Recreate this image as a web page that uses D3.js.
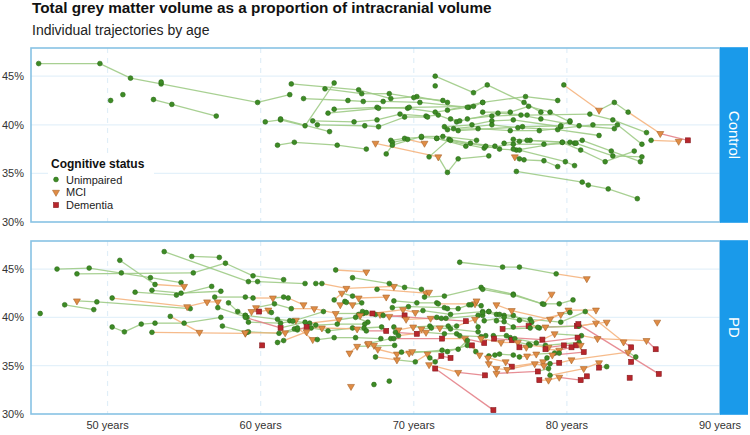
<!DOCTYPE html>
<html>
<head>
<meta charset="utf-8">
<script src="https://cdn.jsdelivr.net/npm/d3@7"></script>
<style>
  body { margin: 0; background: #fff; }
  svg { display: block; font-family: "Liberation Sans", Arial, Helvetica, sans-serif; }
</style>
</head>
<body>
<svg id="chart" width="750" height="435"></svg>
<script>
// Data (age in years, total GM volume as % of ICV, status U / M / D)

const panels = ["Control", "PD"];
const statusKeys = ["U", "M", "D"];
const statusNames = ["Unimpaired", "MCI", "Dementia"];
const yTicks = [30, 35, 40, 45];
const xTicks = [50, 60, 70, 80, 90];

const controlTrajectories = [
    [[45.5,46.3],[49.5,46.3],[51.5,44.8],[53.5,44.2],[59.8,42.3],[61.9,43.1]],
    [[50.2,42.5]],
    [[51.0,43.1]],
    [[53.5,44.4]],
    [[53.0,42.6],[54.2,42.1],[57.1,40.9]],
    [[60.3,40.3],[61.3,40.5],[62.9,39.9],[64.8,44.3]],
    [[61.1,37.9],[62.2,38.2],[65.0,37.9],[66.9,37.5]],
    [[62.0,44.2],[66.4,43.6],[68.5,42.7],[70.2,42.9],[72.2,42.3]],
    [[64.2,43.7],[66.6,43.2],[68.4,43.2],[70.0,42.8],[71.9,42.5]],
    [[62.8,42.7],[65.7,42.5],[66.7,42.4],[68.0,42.4],[70.4,42.3],[73.6,41.8]],
    [[64.8,41.6],[67.6,41.8],[69.6,41.7],[71.4,41.3],[73.5,41.8]],
    [[64.4,41.2],[67.7,41.7],[69.7,41.8],[73.9,41.9],[74.5,42.3]],
    [[63.4,40.4],[66.1,40.3],[67.6,40.5],[69.1,41.1],[70.8,40.9],[71.6,41.0],[72.8,40.3]],
    [[63.7,40.0],[66.8,39.9],[67.7,39.8],[69.4,40.8],[70.9,40.8]],
    [[61.3,40.6],[64.5,39.3]],
    [[67.5,38.1,"M"],[71.6,36.7,"M"],[72.2,35.1],[72.9,36.5],[74.9,36.8]],
    [[68.5,38.4],[69.4,38.6],[70.5,38.7],[71.5,38.6],[73.4,37.8]],
    [[68.6,38.2],[69.6,38.5],[70.7,38.1,"M"]],
    [[68.2,37.0],[68.6,37.9],[70.5,38.8],[71.9,38.8],[74.1,38.4]],
    [[71.0,36.7],[72.3,38.5],[73.7,38.1],[75.3,37.8]],
    [[71.4,45.0],[73.9,43.3],[74.8,44.1],[77.2,42.3],[78.3,41.3]],
    [[71.4,44.0]],
    [[72.2,41.5],[74.5,42.3],[77.3,42.9],[79.4,42.5]],
    [[74.5,41.3],[76.3,41.3],[77.5,41.9],[78.9,41.3],[80.2,40.3]],
    [[73.5,40.6],[75.1,40.9],[77.0,41.0],[78.3,40.6],[80.8,39.9],[83.1,39.6]],
    [[72.4,40.6],[73.0,40.4],[75.5,41.2],[77.4,41.0],[81.5,41.1],[83.0,40.5],[85.2,39.2]],
    [[72.0,39.8],[73.8,40.0],[75.1,40.4],[76.5,40.5],[79.6,39.8]],
    [[72.2,39.5],[74.2,39.6],[76.3,39.4],[78.2,39.4],[81.7,40.0],[83.3,40.0],[84.9,38.0]],
    [[72.6,39.6],[75.1,40.0],[76.8,39.7],[79.4,39.5],[82.1,38.9]],
    [[72.9,39.4],[77.1,39.8],[79.6,39.9],[80.2,40.4]],
    [[71.5,38.6],[74.6,37.6],[76.5,38.0],[78.5,38.0],[80.5,38.1]],
    [[72.4,38.4],[74.7,37.8],[75.6,37.5],[76.7,37.4],[79.7,38.2],[81.0,38.4],[82.9,37.3],[84.8,36.2]],
    [[75.9,38.1],[76.9,38.3],[77.6,38.4],[80.2,38.2],[80.6,38.1],[83.0,36.8],[84.9,36.7]],
    [[76.5,38.5],[77.4,38.4],[79.7,38.2],[80.9,37.4],[82.5,36.2],[84.4,37.3]],
    [[76.5,37.5],[76.9,37.4],[79.9,36.2],[80.5,35.8]],
    [[76.6,36.7,"M"],[76.9,36.5],[77.2,36.4],[78.5,36.3],[79.4,35.7]],
    [[76.7,35.2],[81.0,34.1],[81.4,33.8],[82.7,33.4],[84.6,32.4]],
    [[79.8,44.1],[82.1,41.5,"M"],[83.1,42.3],[84.0,41.3],[86.1,39.1,"M"],[87.9,38.4,"D"]],
    [[85.5,38.4],[87.3,38.3,"M"]]
];

const pdTrajectories = [
    [[45.6,40.4]],
    [[46.7,45.0],[48.8,45.1],[52.8,44.1],[54.8,43.6]],
    [[48.0,44.5],[55.6,44.6],[57.7,45.6],[59.5,44.3],[61.5,43.9]],
    [[50.8,45.9],[53.1,43.4],[55.0,43.2,"M"]],
    [[53.7,46.8],[59.2,43.7],[59.8,43.7],[62.9,43.5]],
    [[55.5,46.3],[57.3,46.2]],
    [[50.9,44.6]],
    [[52.9,42.8],[54.8,42.5],[57.4,42.7]],
    [[51.8,42.6],[54.5,42.3],[56.8,43.2]],
    [[48.0,41.7,"M"],[49.3,41.6],[55.4,40.9]],
    [[47.2,41.3],[49.1,40.8]],
    [[50.3,42.0],[55.2,41.1,"M"],[56.5,41.6,"M"],[57.2,41.6,"M"]],
    [[50.3,39.0],[51.1,38.5],[52.2,39.3],[53.1,39.4],[55.0,39.4],[57.4,40.0]],
    [[54.1,40.1],[56.0,38.45,"M"]],
    [[52.9,38.45],[59.0,38.35,"M"]],
    [[57.0,42.1],[59.0,42.1],[59.5,42.0],[60.8,42.0,"M"],[61.5,42.1],[61.8,42.0],[62.8,41.3,"M"]],
    [[57.2,41.0],[59.1,40.0]],
    [[57.5,39.1],[59.1,38.45]],
    [[57.9,41.5],[58.5,40.6],[59.0,40.2]],
    [[63.6,43.5],[64.0,43.5],[65.6,43.0,"M"],[68.7,43.2,"M"]],
    [[64.9,44.9],[66.9,44.7,"M"]],
    [[66.0,44.1],[68.4,43.5],[69.4,43.1],[70.5,42.9]],
    [[64.8,41.8],[65.3,42.5,"M"],[66.0,42.2],[66.4,42.0,"M"],[68.2,42.1,"M"]],
    [[65.2,41.3,"M"],[65.5,41.65],[65.6,41.55],[66.0,41.3,"M"],[66.6,41.5]],
    [[59.7,41.0,"M"],[60.9,41.4],[62.0,40.9],[63.5,40.9,"M"],[64.9,40.4,"M"],[66.7,40.4],[67.5,40.3]],
    [[59.4,40.6,"M"],[59.9,40.6,"D"],[60.5,40.75,"M"],[60.7,40.5]],
    [[59.0,40.2],[61.1,39.8],[61.9,39.65],[62.3,39.7,"M"],[64.1,40.6]],
    [[59.2,39.5],[61.3,39.4],[62.1,39.6],[63.2,39.4],[65.1,39.75,"M"],[66.2,40.0],[67.0,39.5]],
    [[59.0,40.0],[61.3,38.9,"D"],[62.9,39.5],[63.6,39.2],[65.0,39.3],[66.8,39.3]],
    [[59.2,38.5],[61.2,38.35],[62.2,38.8],[63.3,38.9],[64.4,38.6],[66.0,38.9],[66.75,38.9],[67.9,39.0]],
    [[59.0,38.4,"M"],[61.6,38.4,"M"],[62.4,38.7],[63.0,39.0,"D"],[64.0,38.9,"M"],[66.3,38.8,"M"],[66.9,38.6],[68.2,38.6,"D"]],
    [[60.1,37.1,"D"]],
    [[61.1,37.4],[61.5,37.6],[63.0,38.5,"M"]],
    [[62.4,38.9],[63.4,37.7,"M"],[63.7,37.7],[64.8,37.9],[66.2,37.9],[67.85,37.8]],
    [[65.8,36.3,"M"],[66.3,37.0,"M"],[68.75,37.1]],
    [[67.0,37.2,"M"],[67.4,37.1,"M"],[67.65,36.7,"M"],[68.9,36.2,"M"]],
    [[65.9,32.85,"M"]],
    [[67.4,33.05]],
    [[68.4,33.4]],
    [[73.0,45.7],[75.8,45.2],[76.9,45.2],[79.3,44.5],[81.3,44.0,"M"]],
    [[67.6,42.9],[70.8,42.5,"M"],[71.0,42.6,"M"]],
    [[70.7,42.1],[72.0,42.2],[74.4,43.1],[76.5,42.4],[78.4,41.4],[79.5,41.4],[80.4,41.8]],
    [[74.5,42.9],[76.5,42.3],[78.5,41.35],[79.0,42.4,"M"]],
    [[68.7,41.7],[70.2,41.5],[71.5,41.5],[71.6,41.4],[74.0,41.4,"M"],[74.1,41.7,"M"]],
    [[68.6,41.0],[69.65,41.1],[72.0,41.0],[72.2,40.9],[72.9,40.9],[73.6,41.3],[73.75,41.3],[74.4,41.2]],
    [[66.65,40.6],[67.3,40.4,"D"],[69.3,40.8,"M"],[70.1,40.5,"M"],[70.6,40.7],[72.4,40.3],[74.5,40.6],[74.9,40.6]],
    [[66.4,40.3],[66.5,40.2,"M"],[67.8,40.3,"M"],[68.4,40.1,"M"],[69.4,40.2,"D"],[69.5,39.8,"M"],[71.1,39.9,"M"],[71.5,40.0],[71.8,39.9],[72.1,39.9],[74.2,40.2],[74.5,40.2]],
    [[66.9,40.5],[68.0,40.2],[73.4,39.6,"D"]],
    [[68.7,39.0],[69.0,38.7,"M"],[69.96,39.0,"M"],[71.05,39.1],[72.25,39.1],[72.8,39.1],[74.0,39.8,"M"],[74.2,39.0]],
    [[68.8,38.45],[70.2,38.3,"D"],[70.5,38.8,"M"],[71.15,38.9],[71.7,38.9,"M"],[72.4,38.8],[74.2,38.5]],
    [[69.0,38.1],[70.8,38.45,"M"],[72.0,38.3],[72.8,38.3],[73.0,38.1],[74.4,38.0],[74.7,38.1]],
    [[67.05,37.3,"M"],[68.5,37.8],[68.7,37.8],[71.85,37.8,"D"],[73.35,37.8,"M"],[74.6,37.35,"D"]],
    [[69.2,36.4],[69.7,36.3,"M"],[71.85,36.6],[72.9,36.7],[73.5,37.6],[74.05,36.45]],
    [[69.9,36.45,"M"],[72.2,36.45],[73.5,37.1],[73.8,37.1,"D"],[74.3,36.1,"M"]],
    [[67.5,35.9],[68.9,35.6,"M"],[70.1,35.4],[70.9,36.2,"M"],[71.05,35.8],[71.4,35.4],[71.8,36.0,"D"],[72.4,35.8,"D"]],
    [[71.0,35.1,"M"],[72.9,34.3,"M"],[74.65,34.0,"D"]],
    [[71.4,34.7,"D"],[75.2,30.4,"D"]],
    [[74.5,40.5],[75.4,40.3],[75.6,40.3],[76.5,40.2],[78.2,38.9]],
    [[74.9,40.6],[75.9,40.2],[77.6,39.8],[79.6,39.5],[81.2,40.6],[83.7,37.45,"M"],[84.2,36.9,"D"]],
    [[75.4,41.3,"M"],[76.4,40.7,"M"],[78.9,39.8,"M"],[80.1,40.75,"M"],[81.9,40.75,"M"]],
    [[74.6,39.65],[75.9,40.0],[76.9,39.7],[77.7,39.5],[79.6,40.3,"M"],[80.2,40.5]],
    [[75.4,39.65],[75.9,39.55],[76.5,39.0],[77.5,39.1,"D"],[78.6,39.0,"M"],[80.65,39.1,"D"],[82.6,39.5,"M"]],
    [[75.8,38.8,"D"],[77.6,38.9],[78.1,38.97],[80.8,39.1],[81.9,39.4,"M"]],
    [[75.2,38.1],[76.05,38.1],[76.3,37.9],[78.4,37.7,"D"],[79.2,38.3,"M"],[80.95,38.1],[82.0,37.8,"M"],[85.2,37.6,"M"],[85.8,36.7,"D"]],
    [[75.25,37.8,"D"],[76.4,37.65,"D"],[76.6,37.8],[78.0,37.35],[80.7,37.9,"D"]],
    [[74.4,37.8,"M"],[75.7,37.4,"M"],[76.8,37.4,"M"],[77.5,37.2],[78.6,37.1],[80.8,37.4]],
    [[76.9,36.9,"D"],[77.35,36.9,"M"],[77.6,37.1],[78.8,36.9,"M"],[79.8,37.1,"D"],[80.6,37.1,"D"]],
    [[78.6,36.7,"D"],[79.5,36.6,"M"],[80.3,36.9,"D"],[80.9,37.1,"M"]],
    [[74.9,36.0],[75.3,36.1],[75.6,36.2],[76.5,36.1],[76.9,35.9],[77.4,36.0,"M"],[78.0,36.2,"M"],[79.2,36.3],[79.5,36.3]],
    [[74.85,35.8,"M"],[76.0,35.4,"M"],[76.4,34.9,"D"],[78.45,35.4,"M"],[78.7,35.8],[79.05,36.1,"M"],[81.1,36.4,"D"]],
    [[74.9,35.2,"M"],[75.4,34.7,"M"],[76.1,34.6,"M"],[77.9,35.2,"M"],[78.5,35.0,"M"],[78.9,35.2],[79.5,35.3,"D"],[80.3,35.6,"M"],[84.0,36.4,"M"],[84.5,35.9]],
    [[75.4,34.2,"M"],[78.1,34.4,"D"],[78.8,34.7],[78.9,34.0],[81.1,34.7,"M"],[82.1,35.3,"M"]],
    [[78.2,33.5,"D"],[78.8,33.5,"M"],[79.5,33.8,"M"],[80.9,33.5,"D"],[81.3,33.9,"D"]],
    [[82.1,34.8,"D"],[82.6,34.9]],
    [[80.75,39.3,"D"],[86.0,34.15,"D"]],
    [[84.2,35.4,"D"]],
    [[84.1,33.75,"D"]],
    [[85.9,39.5,"M"]]
];

// Layout

const svg = d3.select("#chart");
const plotLeft = 31, plotRight = 720, stripWidth = 28;
const panelBoxes = [{ top: 48, bottom: 222 }, { top: 241, bottom: 414 }];
const panelData = [controlTrajectories, pdTrajectories];

const pointColor = { U: "#3d8b25", M: "#e08c45", D: "#b8262c" };
const pointStroke = { U: "#2c6b17", M: "#a8642a", D: "#861a1e" };
const lineColor = { U: "#9fcb86", M: "#f5b47e", D: "#e48289" };

const x = d3.scaleLinear().domain([45, 90]).range([plotLeft, plotRight]);

const triangle = d3.symbol().type(d3.symbolTriangle).size(21)();

function drawMarker(g, d) {
    const status = d[2] || "U";
    if (status === "U") {
        g.append("circle").attr("r", 2.4);
    } else if (status === "M") {
        g.append("path").attr("d", triangle).attr("transform", "rotate(180)");
    } else {
        g.append("rect").attr("x", -2.5).attr("y", -2.5).attr("width", 5).attr("height", 5);
    }
    g.attr("fill", pointColor[status]).attr("stroke", pointStroke[status]).attr("stroke-width", 0.6);
}

// Title

svg.append("text")
    .attr("x", 32).attr("y", 13)
    .attr("font-size", 15.3).attr("font-weight", "bold").attr("fill", "#111")
    .text("Total grey matter volume as a proportion of intracranial volume");

svg.append("text")
    .attr("x", 32).attr("y", 35)
    .attr("font-size", 14).attr("fill", "#222")
    .text("Individual trajectories by age");

// Panels

panels.forEach((name, i) => {
    const box = panelBoxes[i];
    const y = d3.scaleLinear().domain([30, 47.9]).range([box.bottom, box.top]);
    const g = svg.append("g");

    // grid
    g.selectAll("line.hgrid")
        .data(yTicks.filter(t => t > 30))
        .join("line")
        .attr("x1", plotLeft).attr("x2", plotRight)
        .attr("y1", d => y(d)).attr("y2", d => y(d))
        .attr("stroke", "#e4f1fa").attr("stroke-width", 1.2);

    g.selectAll("line.vgrid")
        .data(xTicks.filter(t => t < 90))
        .join("line")
        .attr("x1", d => x(d)).attr("x2", d => x(d))
        .attr("y1", box.top).attr("y2", box.bottom)
        .attr("stroke", "#e0eef8").attr("stroke-width", 1.2)
        .attr("stroke-dasharray", "5,5");

    // y axis labels
    g.selectAll("text.ytick")
        .data(yTicks)
        .join("text")
        .attr("x", 24).attr("y", d => y(d) + 4)
        .attr("text-anchor", "end")
        .attr("font-size", 11).attr("fill", "#333")
        .text(d => d + "%");

    // trajectory segments, coloured by the later status
    const segments = [];
    panelData[i].forEach(traj => {
        for (let k = 1; k < traj.length; k++) {
            segments.push({ a: traj[k - 1], b: traj[k], status: traj[k][2] || "U" });
        }
    });

    g.selectAll("line.seg")
        .data(segments)
        .join("line")
        .attr("x1", d => x(d.a[0])).attr("y1", d => y(d.a[1]))
        .attr("x2", d => x(d.b[0])).attr("y2", d => y(d.b[1]))
        .attr("stroke", d => lineColor[d.status])
        .attr("stroke-width", 1.3)
        .attr("stroke-opacity", 0.9);

    const points = panelData[i].flat();
    g.selectAll("g.pt")
        .data(points)
        .join("g")
        .attr("transform", d => `translate(${x(d[0])},${y(d[1])})`)
        .each(function (d) { drawMarker(d3.select(this), d); });

    // frame
    g.append("rect")
        .attr("x", plotLeft).attr("y", box.top)
        .attr("width", plotRight - plotLeft).attr("height", box.bottom - box.top)
        .attr("fill", "none").attr("stroke", "#88c2e4").attr("stroke-width", 1.6);

    // strip
    g.append("rect")
        .attr("x", plotRight).attr("y", box.top - 0.8)
        .attr("width", stripWidth).attr("height", box.bottom - box.top + 1.6)
        .attr("fill", "#1a9aea");

    g.append("text")
        .attr("transform", `translate(${plotRight + stripWidth / 2 - 5},${(box.top + box.bottom) / 2}) rotate(90)`)
        .attr("text-anchor", "middle")
        .attr("font-size", 15).attr("fill", "#fff")
        .text(name);
});

// x axis labels under the lower panel

svg.selectAll("text.xtick")
    .data(xTicks)
    .join("text")
    .attr("x", d => x(d)).attr("y", 429)
    .attr("text-anchor", "middle")
    .attr("font-size", 11).attr("fill", "#333")
    .text(d => d + " years");

// Legend

const legend = svg.append("g").attr("transform", "translate(51,0)");
legend.append("rect")
    .attr("x", -3).attr("y", 156).attr("width", 106).attr("height", 57)
    .attr("fill", "#fff");
legend.append("text")
    .attr("x", 0).attr("y", 168)
    .attr("font-size", 12).attr("font-weight", "bold").attr("fill", "#111")
    .text("Cognitive status");

statusKeys.forEach((k, i) => {
    const yy = 179.5 + i * 12.8;
    const mk = legend.append("g").attr("transform", `translate(5,${yy})`);
    drawMarker(mk, [0, 0, k]);
    legend.append("text")
        .attr("x", 15).attr("y", yy + 4)
        .attr("font-size", 11).attr("fill", "#222")
        .text(statusNames[i]);
});
</script>
</body>
</html>
